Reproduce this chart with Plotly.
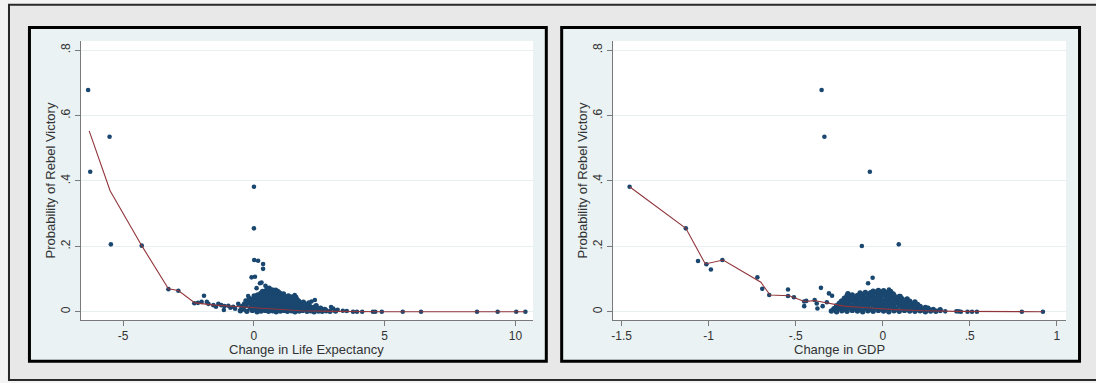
import plotly.graph_objects as go

# ---------------- data: left panel (change in life expectancy) ----------------
le_out_x = [-6.34, -6.26, -5.52, -5.47, -4.29, -3.27, -2.89, -2.28, -2.14, -1.91, -2.00, -1.80,
            -1.74, -1.55, -1.45, -1.36, -1.25, -1.15, -1.13, -0.98, -0.90, -0.79, -0.72, -0.60,
            -0.47, 0.00, 0.00, 0.01, 0.16, 0.35, 0.35, -0.09, 0.04, 0.29, 0.10, 0.44, 0.23,
            0.70, 0.99, 1.56, 2.33, 2.20, 3.03, -0.32, -0.22]
le_out_y = [0.678, 0.428, 0.535, 0.206, 0.202, 0.069, 0.064, 0.026, 0.027, 0.049, 0.030, 0.030,
            0.024, 0.020, 0.015, 0.024, 0.020, 0.005, 0.017, 0.018, 0.012, 0.015, 0.009, 0.024,
            0.010, 0.382, 0.255, 0.158, 0.156, 0.146, 0.131, 0.105, 0.107, 0.089, 0.072, 0.079, 0.087,
            0.068, 0.058, 0.051, 0.036, 0.031, 0.010, 0.034, 0.048]

le_clu_x = [-0.52, -0.27, -0.06, 0.12, 0.27, 0.43, 0.56, 0.72, 0.85, 1.01, 1.15, 1.28, 1.44, 1.57,
            1.73, 1.86, 2.03, 2.17, 2.30, 2.47, 2.61, 2.76, 2.91, 3.12,
            -0.41, -0.14, 0.04, 0.21, 0.36, 0.49, 0.65, 0.78, 0.94, 1.08, 1.21, 1.37, 1.50, 1.66,
            1.79, 1.96, 2.08, 2.25, 2.41, 2.54, 2.71,
            -0.46, -0.31, -0.11, 0.09, 0.23, 0.40, 0.52, 0.69, 0.81, 0.98, 1.10, 1.27, 1.39, 1.56,
            1.68, 1.85, 1.98, 2.14, 2.29,
            -0.36, -0.17, 0.01, 0.17, 0.30, 0.47, 0.59, 0.76, 0.88, 1.05, 1.17, 1.34, 1.46, 1.63,
            1.76, 1.93, 2.05,
            -0.27, -0.07, 0.11, 0.25, 0.42, 0.54, 0.71, 0.83, 1.00, 1.12, 1.29, 1.41, 1.58, 1.71, 1.89,
            -0.16, 0.06, 0.19, 0.36, 0.49, 0.65, 0.78, 0.94, 1.07, 1.23, 1.36, 1.53, 1.65,
            0.01, 0.14, 0.31, 0.44, 0.61, 0.73, 0.89, 1.02, 1.18, 1.32, 1.47,
            0.26, 0.39, 0.56, 0.68, 0.85, 0.97, 1.13,
            0.46, 0.61, 0.75, 0.91,
            -0.05, 0.20, 0.33, 0.52, 0.67, 0.80, 0.95, 1.25, 1.60, 1.90, 2.10, 2.38, 2.55, 0.58, 0.83]
le_clu_y = [0.003, 0.001, 0.004, 0.000, 0.002, 0.004, 0.001, 0.003, 0.000, 0.002, 0.004, 0.001, 0.003, 0.000,
            0.002, 0.004, 0.001, 0.003, 0.000, 0.002, 0.001, 0.003, 0.001, 0.002,
            0.008, 0.011, 0.007, 0.010, 0.008, 0.012, 0.009, 0.007, 0.011, 0.008, 0.010, 0.007, 0.011, 0.009,
            0.006, 0.010, 0.008, 0.006, 0.009, 0.006, 0.007,
            0.016, 0.019, 0.015, 0.018, 0.016, 0.019, 0.015, 0.018, 0.016, 0.019, 0.015, 0.018, 0.016, 0.019,
            0.015, 0.017, 0.014, 0.016, 0.013,
            0.024, 0.027, 0.023, 0.026, 0.024, 0.027, 0.023, 0.026, 0.024, 0.027, 0.023, 0.026, 0.024, 0.025,
            0.022, 0.024, 0.021,
            0.032, 0.035, 0.031, 0.034, 0.032, 0.035, 0.031, 0.034, 0.032, 0.035, 0.031, 0.033, 0.030, 0.032, 0.029,
            0.040, 0.043, 0.039, 0.042, 0.040, 0.043, 0.039, 0.042, 0.040, 0.041, 0.038, 0.040, 0.037,
            0.048, 0.051, 0.047, 0.050, 0.048, 0.051, 0.047, 0.049, 0.046, 0.048, 0.045,
            0.056, 0.059, 0.055, 0.058, 0.056, 0.057, 0.054,
            0.064, 0.067, 0.063, 0.062,
            0.020, 0.045, 0.062, 0.070, 0.052, 0.061, 0.045, 0.036, 0.044, 0.012, 0.027, 0.018, 0.011, 0.072, 0.066]

le_tail_x = [2.95, 3.20, 3.40, 3.55, 3.79, 3.94, 4.14, 4.55, 4.64, 4.89, 5.69, 6.39, 8.53, 9.32, 10.03, 10.38]
le_tail_y = [0.014, 0.006, 0.003, 0.002, 0.000, 0.000, 0.000, 0.000, 0.000, 0.000, 0.000, 0.000, 0.000, 0.000, 0.000, 0.000]

le_fit_x = [-6.30, -5.50, -4.29, -3.27, -2.89, -2.26, -1.50, -0.48, 0.79, 1.81, 3.00, 3.80, 4.90, 6.40, 8.50, 10.38]
le_fit_y = [0.553, 0.370, 0.202, 0.070, 0.065, 0.027, 0.020, 0.015, 0.007, 0.003, 0.001, 0.000, 0.000, 0.000, 0.000, 0.000]

# ---------------- data: right panel (change in GDP) ----------------
gdp_out_x = [-1.454, -1.131, -1.061, -1.013, -0.987, -0.921, -0.720, -0.692, -0.652, -0.544, -0.544,
             -0.510, -0.451, -0.451, -0.439, -0.391, -0.379, -0.375, -0.355, -0.351, -0.335, -0.345,
             -0.309, -0.291, -0.321, -0.120, -0.074, -0.084, -0.058, 0.092, 0.036]
gdp_out_y = [0.382, 0.255, 0.155, 0.145, 0.129, 0.158, 0.105, 0.070, 0.051, 0.068, 0.048,
             0.044, 0.031, 0.017, 0.033, 0.036, 0.025, 0.010, 0.073, 0.678, 0.535, 0.017,
             0.056, 0.049, 0.029, 0.201, 0.428, 0.087, 0.104, 0.206, 0.068]

gdp_clu_x = [-0.295, -0.265, -0.235, -0.205, -0.175, -0.145, -0.115, -0.085, -0.055, -0.025, 0.005,
             0.035, 0.065, 0.095, 0.125, 0.155, 0.185, 0.215, 0.245, 0.275, 0.305,
             -0.28, -0.25, -0.22, -0.19, -0.16, -0.13, -0.10, -0.07, -0.04, -0.01, 0.02, 0.05, 0.08,
             0.11, 0.14, 0.17, 0.20, 0.23, 0.26, 0.29,
             -0.265, -0.235, -0.205, -0.175, -0.145, -0.115, -0.085, -0.055, -0.025, 0.005, 0.035,
             0.065, 0.095, 0.125, 0.155, 0.185, 0.215, 0.245,
             -0.25, -0.22, -0.19, -0.16, -0.13, -0.10, -0.07, -0.04, -0.01, 0.02, 0.05, 0.08, 0.11,
             0.14, 0.17, 0.20,
             -0.235, -0.205, -0.175, -0.145, -0.115, -0.085, -0.055, -0.025, 0.005, 0.035, 0.065,
             0.095, 0.125, 0.155, 0.185,
             -0.22, -0.19, -0.16, -0.13, -0.10, -0.07, -0.04, -0.01, 0.02, 0.05, 0.08, 0.11, 0.14,
             -0.205, -0.175, -0.145, -0.115, -0.085, -0.055, -0.025, 0.005, 0.035, 0.065, 0.095,
             -0.13, -0.10, -0.07, -0.04, -0.01, 0.02, 0.05,
             -0.055, -0.025, 0.005, 0.045,
             -0.27, -0.21, -0.15, -0.09, -0.03, 0.03, 0.09, 0.15, 0.21, -0.12, -0.06, 0.00, 0.06,
             -0.18, 0.12, 0.18, 0.24, -0.24, -0.03, 0.05, -0.20, 0.10, 0.26, 0.33]
gdp_clu_y = [0.002, 0.000, 0.003, 0.001, 0.004, 0.002, 0.000, 0.003, 0.001, 0.004, 0.002,
             0.000, 0.003, 0.001, 0.004, 0.002, 0.001, 0.003, 0.000, 0.002, 0.001,
             0.009, 0.011, 0.008, 0.012, 0.010, 0.009, 0.011, 0.008, 0.012, 0.010, 0.009, 0.011, 0.008,
             0.012, 0.010, 0.009, 0.011, 0.008, 0.009, 0.007,
             0.018, 0.017, 0.020, 0.016, 0.019, 0.018, 0.017, 0.020, 0.016, 0.019, 0.018,
             0.017, 0.020, 0.016, 0.019, 0.018, 0.016, 0.013,
             0.025, 0.027, 0.026, 0.028, 0.025, 0.027, 0.026, 0.028, 0.025, 0.027, 0.026, 0.028, 0.025,
             0.027, 0.024, 0.022,
             0.033, 0.035, 0.034, 0.036, 0.033, 0.035, 0.034, 0.036, 0.033, 0.035, 0.034,
             0.036, 0.033, 0.032, 0.030,
             0.041, 0.043, 0.042, 0.044, 0.041, 0.043, 0.042, 0.044, 0.041, 0.043, 0.042, 0.040, 0.039,
             0.049, 0.051, 0.050, 0.052, 0.049, 0.051, 0.050, 0.052, 0.049, 0.050, 0.047,
             0.057, 0.059, 0.058, 0.060, 0.057, 0.059, 0.056,
             0.063, 0.065, 0.064, 0.062,
             0.006, 0.014, 0.022, 0.030, 0.038, 0.046, 0.038, 0.022, 0.006, 0.046, 0.054, 0.060, 0.054,
             0.038, 0.030, 0.014, 0.004, 0.030, 0.022, 0.016, 0.055, 0.047, 0.011, 0.006]

gdp_tail_x = [0.212, 0.239, 0.273, 0.308, 0.331, 0.359, 0.423, 0.436, 0.449, 0.487, 0.513, 0.541, 0.799, 0.920]
gdp_tail_y = [0.008, 0.006, 0.004, 0.003, 0.002, 0.001, 0.001, 0.001, 0.000, 0.000, 0.000, 0.000, 0.000, 0.000]

gdp_fit_x = [-1.454, -1.131, -1.019, -0.917, -0.700, -0.647, -0.537, -0.450, -0.393, -0.317, -0.222,
             -0.090, 0.044, 0.235, 0.427, 0.920]
gdp_fit_y = [0.382, 0.255, 0.146, 0.158, 0.090, 0.051, 0.049, 0.031, 0.034, 0.026, 0.017,
             0.012, 0.007, 0.003, 0.001, 0.000]

y_tickvals = [0, 0.2, 0.4, 0.6, 0.8]
y_ticktext = ["0", ".2", ".4", ".6", ".8"]
le_tickvals = [-5, 0, 5, 10]
le_ticktext = ["-5", "0", "5", "10"]
gdp_tickvals = [-1.5, -1, -0.5, 0, 0.5, 1]
gdp_ticktext = ["-1.5", "-1", "-.5", "0", ".5", "1"]

y_title = "Probability of Rebel Victory"
le_title = "Change in Life Expectancy"
gdp_title = "Change in GDP"

# ---------------- styling ----------------
W, H = 1096, 383
NAVY = "#1a476f"
MAROON = "#90353b"
FONT = "Liberation Sans, Arial, sans-serif"

def px(x):
    return x / W

def py(y):
    return (H - y) / H

fig = go.Figure()

def add_panel(sx, sy, cx, cy, fx, fy, xa, ya):
    fig.add_trace(go.Scatter(x=cx, y=cy, mode="markers", xaxis=xa, yaxis=ya,
                             marker=dict(color=NAVY, size=5.4, line=dict(width=0)),
                             showlegend=False, hoverinfo="skip"))
    fig.add_trace(go.Scatter(x=sx, y=sy, mode="markers", xaxis=xa, yaxis=ya,
                             marker=dict(color=NAVY, size=4.6, line=dict(width=0)),
                             showlegend=False, hoverinfo="skip"))
    fig.add_trace(go.Scatter(x=fx, y=fy, mode="lines", xaxis=xa, yaxis=ya,
                             line=dict(color=MAROON, width=1.1),
                             showlegend=False, hoverinfo="skip"))

add_panel(le_out_x + le_tail_x, le_out_y + le_tail_y, le_clu_x, le_clu_y,
          le_fit_x, le_fit_y, "x", "y")
add_panel(gdp_out_x + gdp_tail_x, gdp_out_y + gdp_tail_y, gdp_clu_x, gdp_clu_y,
          gdp_fit_x, gdp_fit_y, "x2", "y2")

axis_common = dict(showline=True, linecolor="#7a7a7a", linewidth=1, ticks="outside",
                   ticklen=5, tickwidth=1, tickcolor="#7a7a7a", zeroline=False,
                   tickfont=dict(family=FONT, size=12, color="#333333"), mirror=False)

ydom = [py(320), py(41)]
yaxis_cfg = dict(axis_common, range=[-0.0254, 0.828], tickvals=y_tickvals, ticktext=y_ticktext,
                 tickangle=-90, showgrid=True, gridcolor="#e7eff1", gridwidth=1, domain=ydom)

fig.update_layout(
    width=W, height=H, autosize=False,
    margin=dict(l=0, r=0, t=0, b=0, pad=0),
    paper_bgcolor="#f4f4f4", plot_bgcolor="white",
    font=dict(family=FONT, size=12, color="#333333"),
    xaxis=dict(axis_common, domain=[px(79), px(532)], range=[-6.618, 10.672],
               tickvals=le_tickvals, ticktext=le_ticktext, showgrid=False, anchor="y"),
    yaxis=dict(yaxis_cfg, anchor="x"),
    xaxis2=dict(axis_common, domain=[px(612), px(1066)], range=[-1.550, 1.053],
                tickvals=gdp_tickvals, ticktext=gdp_ticktext, showgrid=False, anchor="y2"),
    yaxis2=dict(yaxis_cfg, anchor="x2"),
)

shapes = [
    # outer frame
    dict(type="rect", xref="paper", yref="paper", x0=px(7), x1=px(1110), y0=py(380), y1=py(4.7),
         fillcolor="#e8e8e8", line=dict(color="#2a2a2a", width=2), layer="below"),
    # panels
    dict(type="rect", xref="paper", yref="paper", x0=px(27.5), x1=px(545.3), y0=py(361.3), y1=py(27.5),
         fillcolor="#eaf2f3", line=dict(color="black", width=3), layer="below"),
    dict(type="rect", xref="paper", yref="paper", x0=px(560.7), x1=px(1079.5), y0=py(361.3), y1=py(27.5),
         fillcolor="#eaf2f3", line=dict(color="black", width=3), layer="below"),
    # plot regions
    dict(type="rect", xref="paper", yref="paper", x0=px(79), x1=px(532), y0=py(320), y1=py(41),
         fillcolor="white", line=dict(width=0), layer="below"),
    dict(type="rect", xref="paper", yref="paper", x0=px(612), x1=px(1066), y0=py(320), y1=py(41),
         fillcolor="white", line=dict(width=0), layer="below"),
]
fig.update_layout(shapes=shapes)

annots = [
    dict(text=y_title, x=px(49), y=py(180.5), textangle=-90),
    dict(text=y_title, x=px(582), y=py(180.5), textangle=-90),
    dict(text=le_title, x=px(305.5), y=py(349)),
    dict(text=gdp_title, x=px(839), y=py(349)),
]
for a in annots:
    fig.add_annotation(xref="paper", yref="paper", showarrow=False, xanchor="center",
                       yanchor="middle", font=dict(family=FONT, size=13, color="#333333"), **a)

fig.write_html("out.html")
